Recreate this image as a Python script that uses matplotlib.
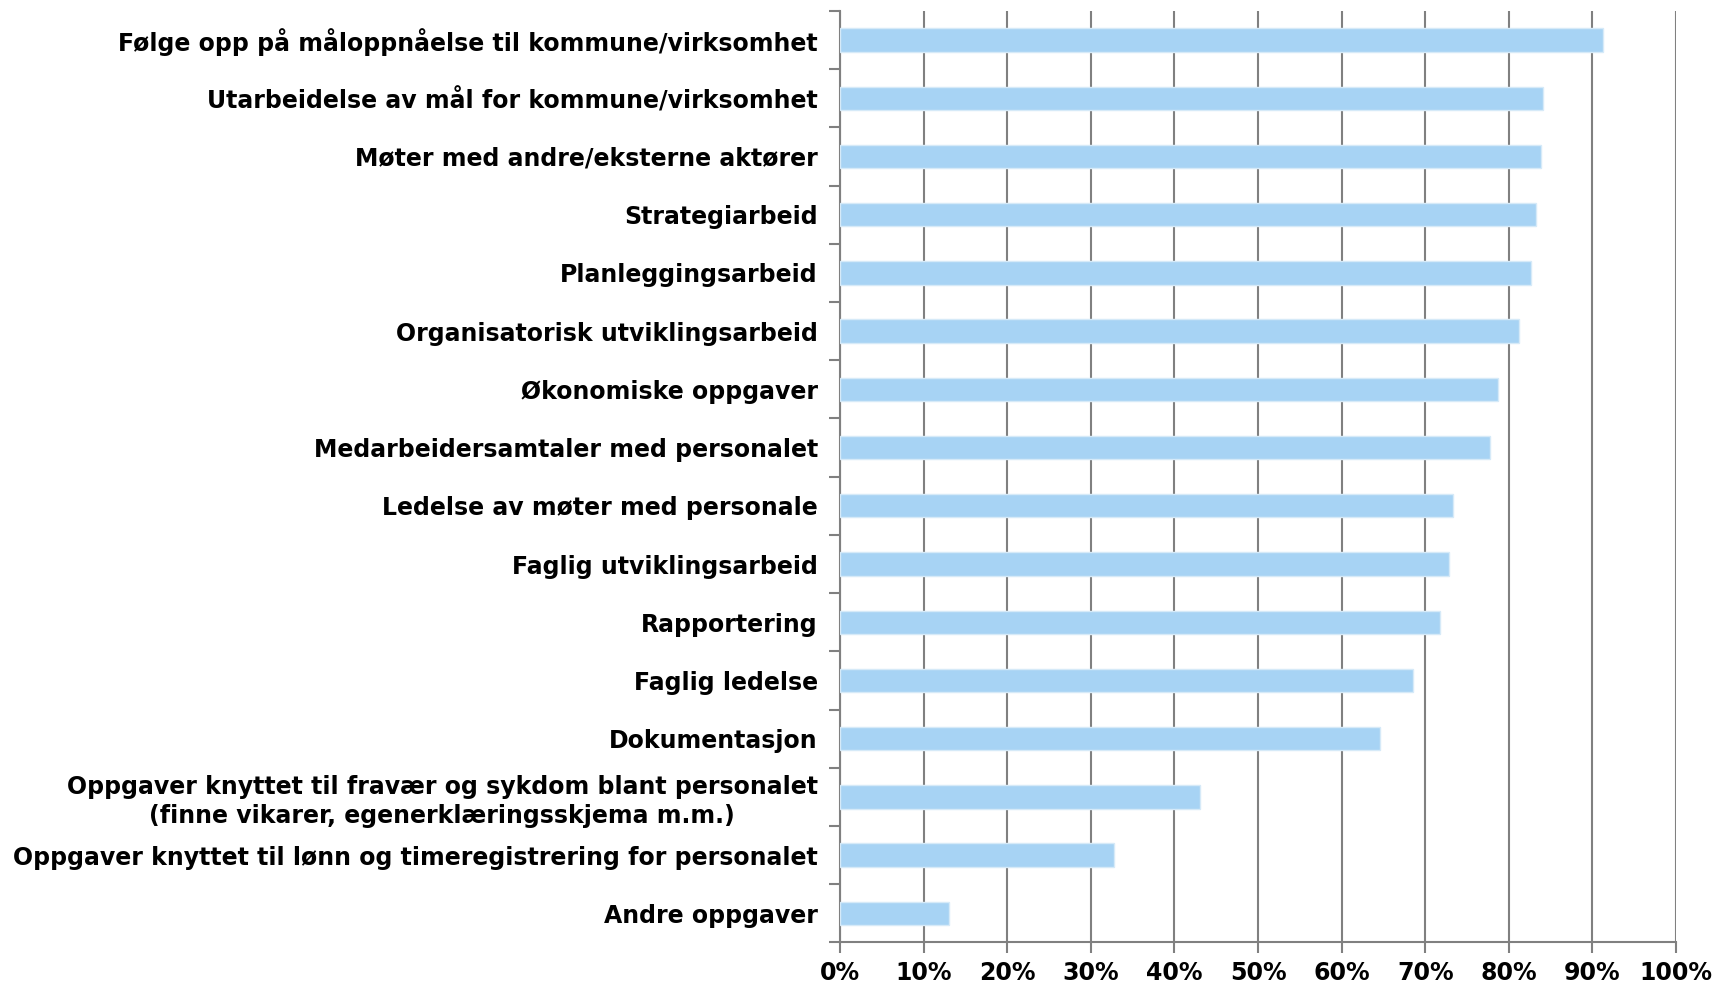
import matplotlib.pyplot as plt
from matplotlib.ticker import MultipleLocator, FixedLocator

# Kategorier (ovenfra og ned) og andel i prosent
kategorier = [
    "Følge opp på måloppnåelse til kommune/virksomhet",
    "Utarbeidelse av mål for kommune/virksomhet",
    "Møter med andre/eksterne aktører",
    "Strategiarbeid",
    "Planleggingsarbeid",
    "Organisatorisk utviklingsarbeid",
    "Økonomiske oppgaver",
    "Medarbeidersamtaler med personalet",
    "Ledelse av møter med personale",
    "Faglig utviklingsarbeid",
    "Rapportering",
    "Faglig ledelse",
    "Dokumentasjon",
    "Oppgaver knyttet til fravær og sykdom blant personalet\n(finne vikarer, egenerklæringsskjema m.m.)",
    "Oppgaver knyttet til lønn og timeregistrering for personalet",
    "Andre oppgaver",
]
andel = [91.3, 84.1, 83.8, 83.3, 82.7, 81.2, 78.7, 77.7, 73.3, 72.9,
         71.8, 68.5, 64.6, 43.0, 32.8, 13.0]

fig = plt.figure(figsize=(17.19, 9.90), dpi=100)
ax = fig.add_axes([0.4887, 0.048, 0.9750 - 0.4887, 0.989 - 0.048])

n = len(kategorier)
ypos = list(range(n))
ax.barh(ypos, andel, height=0.4, color="#A7D3F4", edgecolor="#D6EAF8",
        linewidth=1, zorder=3)

ax.set_ylim(n - 0.5, -0.5)
ax.set_xlim(0, 100)
ax.set_yticks(ypos)
ax.set_yticklabels(kategorier, fontsize=17, fontweight="bold",
                   multialignment="center", linespacing=1.25)
ax.yaxis.set_minor_locator(FixedLocator([i - 0.5 for i in range(n + 1)]))
ax.tick_params(axis="y", which="major", length=0, pad=16)
ax.tick_params(axis="y", which="minor", length=8, width=1.5, color="#808080")

ax.xaxis.set_major_locator(MultipleLocator(10))
ax.set_xticklabels([f"{int(v)}%" for v in ax.get_xticks()],
                   fontsize=17, fontweight="bold")
ax.tick_params(axis="x", length=8, width=1.5, color="#808080", pad=5)
ax.grid(axis="x", color="#808080", linewidth=1.5, zorder=0)

for side in ["top", "right"]:
    ax.spines[side].set_visible(False)
for side in ["left", "bottom"]:
    ax.spines[side].set_color("#808080")
    ax.spines[side].set_linewidth(1.5)

plt.savefig("out.png", dpi=100)
plt.close()
